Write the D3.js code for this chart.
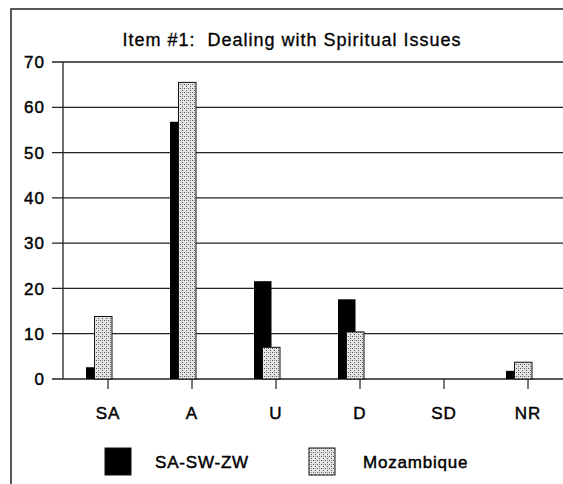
<!DOCTYPE html>
<html>
<head>
<meta charset="utf-8">
<script src="https://cdn.jsdelivr.net/npm/d3@7"></script>
<style>
  body { margin: 0; background: #fff; }
  svg { display: block; }
  text { font-family: "Liberation Sans", Arial, sans-serif; fill: #000; stroke: #000; stroke-width: 0.45px; white-space: pre; }
</style>
</head>
<body>
<div id="chart"></div>
<script>
// data
const categories = ["SA", "A", "U", "D", "SD", "NR"];
const seriesNames = ["SA-SW-ZW", "Mozambique"];
const saswzw = [2.6, 56.8, 21.6, 17.6, 0, 1.8];
const mozambique = [13.8, 65.5, 7.0, 10.4, 0, 3.7];
const yTicks = [0, 10, 20, 30, 40, 50, 60, 70];

const width = 563;
const height = 484;

const svg = d3.select("#chart").append("svg")
  .attr("width", width)
  .attr("height", height);

// hatched fill for Mozambique
const defs = svg.append("defs");
const pat = defs.append("pattern")
  .attr("id", "hatch")
  .attr("patternUnits", "userSpaceOnUse")
  .attr("width", 4).attr("height", 4);
pat.append("rect").attr("width", 4).attr("height", 4).attr("fill", "#e4e4e4");
pat.append("rect").attr("x", 0).attr("y", 0).attr("width", 1).attr("height", 1).attr("fill", "#555");
pat.append("rect").attr("x", 2).attr("y", 2).attr("width", 1).attr("height", 1).attr("fill", "#555");
pat.append("rect").attr("x", 2).attr("y", 0).attr("width", 1).attr("height", 1).attr("fill", "#999");

// outer frame
svg.append("rect")
  .attr("x", 11).attr("y", 9)
  .attr("width", 620).attr("height", 520)
  .attr("fill", "none")
  .attr("stroke", "#222")
  .attr("stroke-width", 1.5);

// title
svg.append("text")
  .attr("x", 292).attr("y", 46)
  .attr("text-anchor", "middle")
  .style("font-size", "18px")
  .style("letter-spacing", "1px")
  .style("stroke-width", "0.3px")
  .text("Item #1:  Dealing with Spiritual Issues");

// scales
const y = d3.scaleLinear().domain([0, 70]).range([379, 62]);
const x = d3.scaleBand().domain(categories).range([57, 561]);
const bw = 17.5;

// gridlines + y labels
svg.append("g")
  .selectAll("line")
  .data(yTicks)
  .join("line")
  .attr("x1", 52).attr("x2", width)
  .attr("y1", d => y(d)).attr("y2", d => y(d))
  .attr("stroke", "#222")
  .attr("stroke-width", 1.3);

svg.append("g")
  .selectAll("text")
  .data(yTicks)
  .join("text")
  .attr("x", 45)
  .attr("y", d => y(d))
  .attr("dy", "0.36em")
  .attr("text-anchor", "end")
  .style("font-size", "17px")
  .style("letter-spacing", "1px")
  .text(d => d);

// y axis line
svg.append("line")
  .attr("x1", 63).attr("x2", 63)
  .attr("y1", y(70)).attr("y2", y(0))
  .attr("stroke", "#222")
  .attr("stroke-width", 1.3);

// bars: black first, hatched drawn over it
const cx = c => x(c) + x.bandwidth() / 2;

svg.append("g")
  .selectAll("rect")
  .data(categories.map((c, i) => ({ c, v: saswzw[i] })))
  .join("rect")
  .attr("x", d => cx(d.c) - 13)
  .attr("y", d => y(d.v))
  .attr("width", bw)
  .attr("height", d => y(0) - y(d.v))
  .attr("fill", "#000");

svg.append("g")
  .selectAll("rect")
  .data(categories.map((c, i) => ({ c, v: mozambique[i] })))
  .join("rect")
  .attr("x", d => cx(d.c) - 4.5)
  .attr("y", d => y(d.v))
  .attr("width", bw)
  .attr("height", d => y(0) - y(d.v))
  .attr("fill", "url(#hatch)")
  .attr("stroke", d => d.v > 0 ? "#111" : "none")
  .attr("stroke-width", 1);

// category ticks and labels
svg.append("g")
  .selectAll("line")
  .data(categories)
  .join("line")
  .attr("x1", d => cx(d) + 9).attr("x2", d => cx(d) + 9)
  .attr("y1", y(0)).attr("y2", y(0) + 10)
  .attr("stroke", "#222")
  .attr("stroke-width", 1.2);

svg.append("g")
  .selectAll("text")
  .data(categories)
  .join("text")
  .attr("x", d => cx(d) + 9)
  .attr("y", 413)
  .attr("dy", "0.36em")
  .attr("text-anchor", "middle")
  .style("font-size", "17px")
  .style("letter-spacing", "1px")
  .text(d => d);

// legend
const legendX = [105, 309];
const legend = svg.append("g")
  .selectAll("g")
  .data(seriesNames)
  .join("g")
  .attr("transform", (d, i) => `translate(${legendX[i]},448)`);

legend.append("rect")
  .attr("width", 26).attr("height", 27)
  .attr("fill", (d, i) => i === 0 ? "#000" : "url(#hatch)")
  .attr("stroke", "#111");

legend.append("text")
  .attr("x", (d, i) => i === 0 ? 50 : 54)
  .attr("y", 14)
  .attr("dy", "0.36em")
  .style("font-size", "17px")
  .style("letter-spacing", "0.8px")
  .text(d => d);
</script>
</body>
</html>
